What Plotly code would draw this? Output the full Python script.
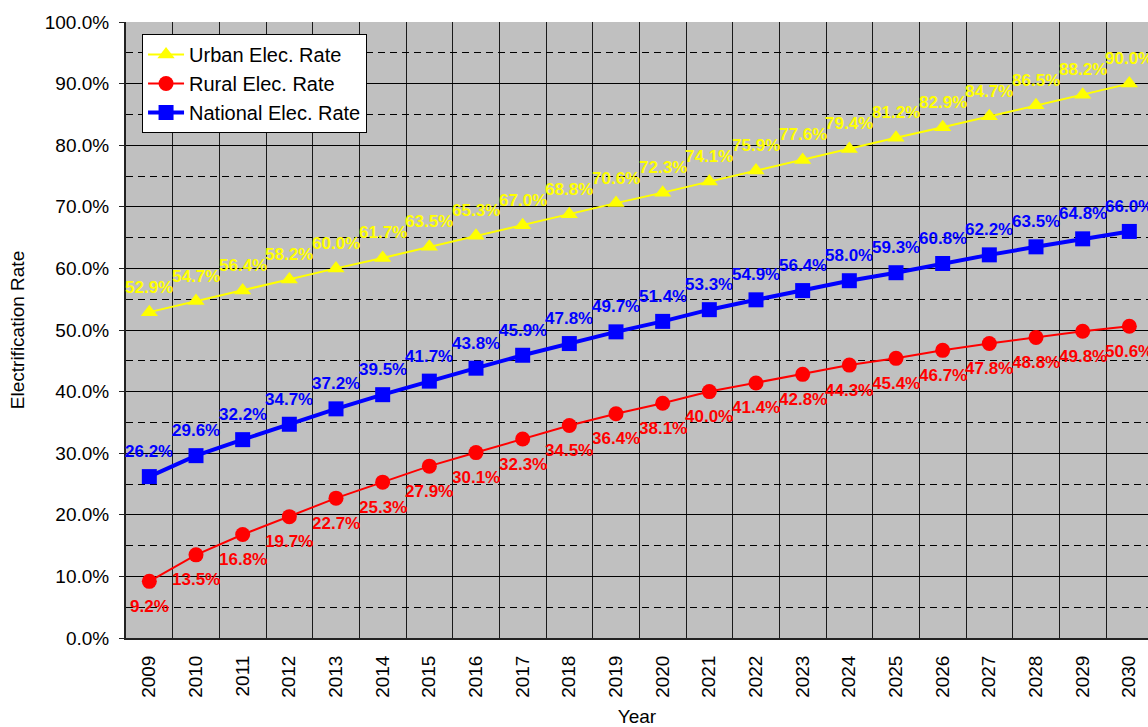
import plotly.graph_objects as go

years = list(range(2009, 2031))

urban = [52.9, 54.7, 56.4, 58.2, 60.0, 61.7, 63.5, 65.3, 67.0, 68.8, 70.6,
         72.3, 74.1, 75.9, 77.6, 79.4, 81.2, 82.9, 84.7, 86.5, 88.2, 90.0]
rural = [9.2, 13.5, 16.8, 19.7, 22.7, 25.3, 27.9, 30.1, 32.3, 34.5, 36.4,
         38.1, 40.0, 41.4, 42.8, 44.3, 45.4, 46.7, 47.8, 48.8, 49.8, 50.6]
national = [26.2, 29.6, 32.2, 34.7, 37.2, 39.5, 41.7, 43.8, 45.9, 47.8, 49.7,
            51.4, 53.3, 54.9, 56.4, 58.0, 59.3, 60.8, 62.2, 63.5, 64.8, 66.0]

FONT = "Liberation Sans, Arial, sans-serif"

series = [
    ("Urban Elec. Rate", urban, "#FFFF00", "triangle-up", 2, 25),
    ("Rural Elec. Rate", rural, "#FF0000", "circle", 2, -25),
    ("National Elec. Rate", national, "#0000FF", "square", 4, 25),
]

fig = go.Figure()
annotations = []

for name, vals, color, symbol, lw, shift in series:
    fig.add_trace(go.Scatter(
        x=years, y=vals, name=name, mode="lines+markers",
        line=dict(color=color, width=lw),
        marker=dict(symbol=symbol, size=15, color=color),
    ))
    # value label above (or below) each point
    for yr, v in zip(years, vals):
        annotations.append(dict(
            x=yr, y=v, xref="x", yref="y", text=f"{v:.1f}%",
            showarrow=False, yshift=shift, xanchor="center", yanchor="middle",
            font=dict(family=FONT, size=17, color=color, weight="bold"),
        ))

fig.update_layout(
    width=1148, height=727,
    margin=dict(l=126, r=0, t=22, b=89),
    paper_bgcolor="white",
    plot_bgcolor="#C0C0C0",
    font=dict(family=FONT, size=19, color="black"),
    showlegend=True,
    annotations=annotations,
    legend=dict(
        x=0.0157, y=0.9805, xanchor="left", yanchor="top",
        bgcolor="white", bordercolor="black", borderwidth=1,
        font=dict(family=FONT, size=20, color="black"),
        tracegroupgap=0, itemsizing="trace", itemwidth=36,
    ),
)

fig.update_xaxes(
    range=[2008.5, 2030.4],
    tickmode="linear", tick0=2009, dtick=1, tickformat="d",
    tickangle=-90, tickfont=dict(family=FONT, size=19),
    showgrid=False, zeroline=False,
    showline=True, linecolor="#222222", linewidth=2,
    ticks="", ticklabelstandoff=8,
    minor=dict(tick0=2008.5, dtick=1, showgrid=True,
               gridcolor="#1a1a1a", gridwidth=1),
    title=dict(text="Year", font=dict(family=FONT, size=19), standoff=13),
)

fig.update_yaxes(
    range=[0, 100],
    tickmode="linear", tick0=0, dtick=10, tickformat=".1f", ticksuffix="%",
    tickfont=dict(family=FONT, size=19),
    showgrid=True, gridcolor="black", gridwidth=1, zeroline=False,
    showline=True, linecolor="#222222", linewidth=2,
    ticks="outside", ticklen=5, tickcolor="#222222", ticklabelstandoff=6,
    minor=dict(tick0=0, dtick=5, showgrid=True, gridcolor="black",
               gridwidth=1, griddash="7px,5px"),
    title=dict(text="Electrification Rate", font=dict(family=FONT, size=19),
               standoff=15),
)

fig.write_html("out.html")
